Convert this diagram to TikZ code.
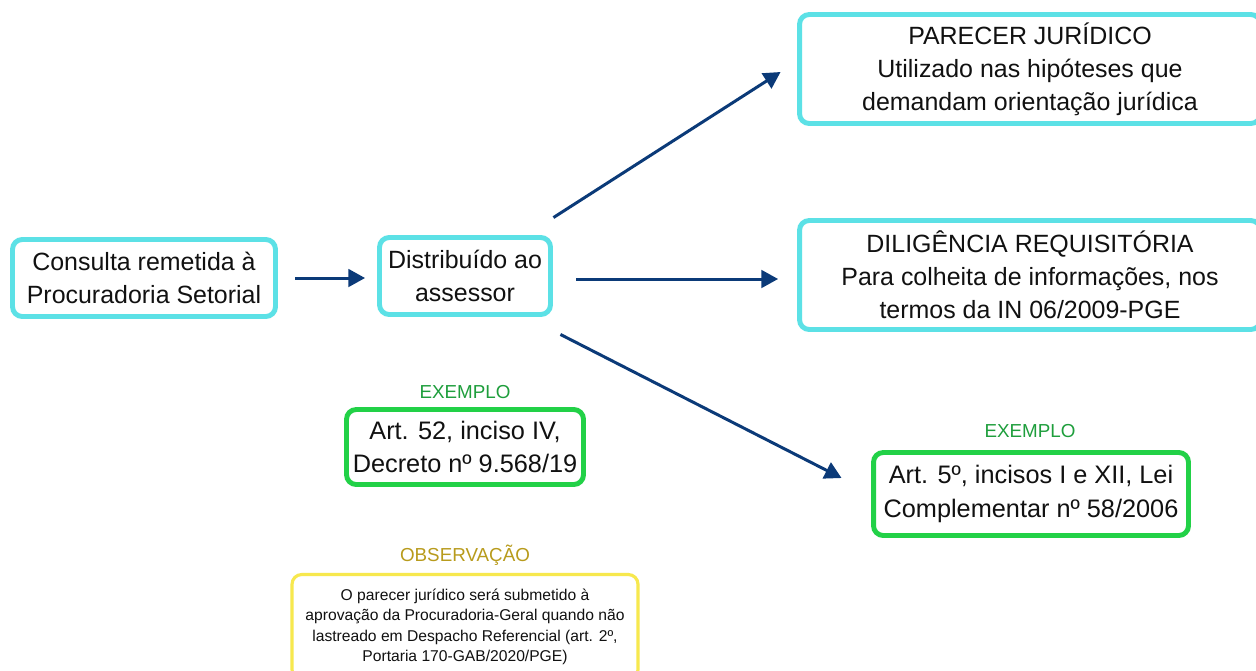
\documentclass[tikz,border=0pt]{standalone}
\usepackage{fontspec}
\setmainfont{Liberation Sans}
\usepackage{tikz}
\usetikzlibrary{
  arrows.meta,
  calc,
  positioning
}
\definecolor{PgeCyan}{HTML}{5CE1E6}
\definecolor{PgeGreen}{HTML}{22D147}
\definecolor{PgeGreenText}{HTML}{1E9E3C}
\definecolor{PgeYellow}{HTML}{F7E84E}
\definecolor{PgeGold}{HTML}{B89B1C}
\definecolor{PgeNavy}{HTML}{0B3A78}
\definecolor{PgeBlack}{HTML}{111111}
\tikzset{
  every node/.style = {text=PgeBlack},
  stage/.style = {
    draw=PgeCyan,
    fill=white,
    line width=2.8pt,
    rounded corners=5.5pt,
    align=center,
    inner sep=2pt,
    font=\fontsize{14.2}{18.7}\selectfont
  },
  example box/.style = {stage, draw=PgeGreen, font=\fontsize{14.4}{19.2}\selectfont},
  remark box/.style = {stage, draw=PgeYellow, line width=1.8pt, font=\fontsize{8.9}{11.6}\selectfont},
  tag/.style = {font=\fontsize{10.7}{12}\selectfont, inner sep=1pt},
  tag example/.style = {tag, text=PgeGreenText},
  tag remark/.style = {tag, text=PgeGold},
  flow/.style = {-{Triangle[length=9.5pt,width=10pt]}, draw=PgeNavy, line width=1.7pt},
}

\begin{document}
\begin{tikzpicture}[x=0.02cm,y=-0.02cm]
  \useasboundingbox[fill=white] (0,0) rectangle (1256,670);

  \node[stage, minimum width=5.26cm, minimum height=1.54cm] (consulta) at (144,278) {Consulta remetida à\\Procuradoria Setorial};
  \node[stage, minimum width=3.42cm, minimum height=1.54cm] (distrib) at (465,276) {Distribuído ao\\assessor};

  \node[stage, minimum width=9.22cm, minimum height=2.18cm] (parecer) at (1030,69) {PARECER JURÍDICO\\Utilizado nas hipóteses que\\demandam orientação jurídica};
  \node[stage, minimum width=9.22cm, minimum height=2.18cm] (diligencia) at (1030,275) {DILIGÊNCIA REQUISITÓRIA\\Para colheita de informações, nos\\termos da IN 06/2009-PGE};

  \node[tag example] (exlabel1) at (465,392) {EXEMPLO};
  \node[example box, minimum width=4.74cm, minimum height=1.50cm] (decreto) at (465,447) {Art. 52, inciso IV,\\Decreto nº 9.568/19};

  \node[tag example] (exlabel2) at (1030,431) {EXEMPLO};
  \node[example box, minimum width=6.30cm, minimum height=1.66cm] (leicomp) at (1031,494) {Art. 5º, incisos I e XII, Lei\\Complementar nº 58/2006};

  \node[tag remark] (obslabel) at (465,555) {OBSERVAÇÃO};
  \node[remark box, minimum width=6.92cm, minimum height=2.10cm] (obs) at (465,627) {O parecer jurídico será submetido à\\aprovação da Procuradoria-Geral quando não\\lastreado em Despacho Referencial (art. 2º,\\Portaria 170-GAB/2020/PGE)};

  \draw[flow, shorten <=0.35cm, shorten >=0.24cm] (consulta.east) -- (distrib.west|-consulta.east);
  \draw[flow, shorten <=0.47cm, shorten >=0.38cm] ($(distrib.east)+(0,3)$) -- ($(diligencia.west|-distrib.east)+(0,3)$);
  \draw[flow] ($(distrib.north east)+(0.5,-17.5)$) -- ($(parecer.west)+(-16.5,3)$);
  \draw[flow] ($(distrib.south east)+(7.5,17.5)$) -- ($(leicomp.west)+(-29.5,-16)$);
\end{tikzpicture}
\end{document}
